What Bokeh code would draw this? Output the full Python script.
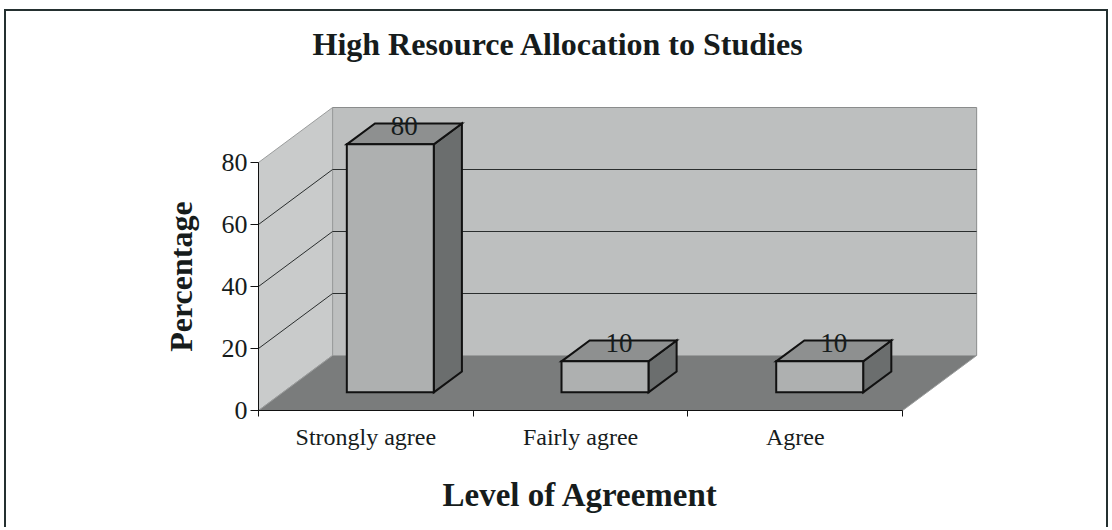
from bokeh.plotting import figure
from bokeh.models import Range1d, FixedTicker, ColumnDataSource
from bokeh.core.properties import value
from bokeh.embed import file_html
from bokeh.resources import INLINE
import math

# ---- data ----
categories = ["Strongly agree", "Fairly agree", "Agree"]
percentages = [80, 10, 10]
value_ticks = [0, 20, 40, 60, 80]
axis_max = 80

title_text = "High Resource Allocation to Studies"
x_title = "Level of Agreement"
y_title = "Percentage"

# ---- 3D styling parameters ----
DX = 0.345   # depth offset in category units
DY = 17.74   # depth offset in value units
F0, F1 = 0.33, 0.71  # bar depth fractions
BW = 0.405   # bar width (category units)
n = len(categories)

FONT = "Liberation Serif"
TXT = "#161c1c"

W, H = 1104, 518
PX_X, PX_Y = 214.7, 3.1      # pixels per category / per percent
ORG_X, ORG_Y = 252, 399      # canvas position of the data origin

p = figure(width=W, height=H,
           x_range=Range1d(-ORG_X / PX_X, (W - ORG_X) / PX_X),
           y_range=Range1d(-(H - ORG_Y) / PX_Y, ORG_Y / PX_Y),
           output_backend="svg", toolbar_location=None,
           min_border=0, min_border_left=0, min_border_right=0,
           min_border_top=0, min_border_bottom=0,
           background_fill_color="white", border_fill_color="white",
           outline_line_color=None)
p.xgrid.visible = False
p.ygrid.visible = False
p.styles = {"margin-left": "4px", "margin-top": "9px",
            "border-top": "2px solid #243030",
            "border-left": "2px solid #243030",
            "border-right": "2px solid #243030"}

# ---- walls & floor ----
p.patch([DX, n + DX, n + DX, DX], [DY, DY, axis_max + DY, axis_max + DY],
        fill_color="#bdbfbf", line_color="#8a8c8c", line_width=1)
p.patch([0, DX, DX, 0], [0, DY, axis_max + DY, axis_max],
        fill_color="#c9cbcb", line_color="#9a9c9c", line_width=1)
p.patch([0, n, n + DX, DX], [0, 0, DY, DY],
        fill_color="#7a7c7c", line_color="#9a9c9c", line_width=1)

# ---- gridlines ----
inner = [t for t in value_ticks if 0 < t < axis_max]
p.multi_line(xs=[[DX, n + DX] for t in inner], ys=[[t + DY, t + DY] for t in inner],
             line_color="#2a2e2e", line_width=1)
p.multi_line(xs=[[0, DX] for t in inner], ys=[[t, t + DY] for t in inner],
             line_color="#2a2e2e", line_width=1)

# ---- bars ----
ddx = (F1 - F0) * DX
ddy = (F1 - F0) * DY
front = dict(xs=[], ys=[])
top = dict(xs=[], ys=[])
side = dict(xs=[], ys=[])
for i, v in enumerate(percentages):
    c = i + 0.5
    x0 = c - BW / 2 + F0 * DX
    x1 = c + BW / 2 + F0 * DX
    yb = F0 * DY
    yt = v + F0 * DY
    front["xs"].append([x0, x1, x1, x0]); front["ys"].append([yb, yb, yt, yt])
    top["xs"].append([x0, x1, x1 + ddx, x0 + ddx]); top["ys"].append([yt, yt, yt + ddy, yt + ddy])
    side["xs"].append([x1, x1 + ddx, x1 + ddx, x1]); side["ys"].append([yb, yb + ddy, yt + ddy, yt])

p.patches("xs", "ys", source=ColumnDataSource(side), fill_color="#6b6e6e",
          line_color="#111111", line_width=2, line_join="miter")
p.patches("xs", "ys", source=ColumnDataSource(top), fill_color="#8e9090",
          line_color="#111111", line_width=2, line_join="miter")
p.patches("xs", "ys", source=ColumnDataSource(front), fill_color="#aeb0b0",
          line_color="#111111", line_width=2, line_join="miter")

# ---- value labels ----
lab_src = ColumnDataSource(dict(
    x=[i + 0.5 + (F0 + F1) / 2 * DX for i in range(n)],
    y=[v + (F0 + F1) / 2 * DY + 2.7 for v in percentages],
    t=[str(v) for v in percentages]))
p.text(x="x", y="y", text="t", source=lab_src, text_align="center",
       text_baseline="middle", text_font=value(FONT), text_font_size="27px",
       text_color=TXT)

# ---- axes (placed at the data origin) ----
ya = p.yaxis[0]
ya.fixed_location = 0
ya.ticker = FixedTicker(ticks=value_ticks)
ya.bounds = (0, axis_max)
ya.major_tick_out = 8
ya.major_tick_in = 0
ya.minor_tick_line_color = None
ya.axis_line_color = "#111111"
ya.major_tick_line_color = "#111111"
ya.major_label_standoff = 3
ya.major_label_text_font = FONT
ya.major_label_text_font_size = "26px"
ya.major_label_text_color = TXT

xa = p.xaxis[0]
xa.fixed_location = 0
xa.ticker = FixedTicker(ticks=[i + 0.5 for i in range(n)], minor_ticks=list(range(n + 1)))
xa.bounds = (0, n)
xa.major_label_overrides = {i + 0.5: cat for i, cat in enumerate(categories)}
xa.major_tick_out = 0
xa.major_tick_in = 0
xa.minor_tick_out = 6
xa.minor_tick_in = 0
xa.minor_tick_line_color = "#111111"
xa.axis_line_color = "#111111"
xa.major_label_standoff = 7
xa.major_label_text_font = FONT
xa.major_label_text_font_size = "24px"
xa.major_label_text_color = TXT

# ---- titles ----
p.text(x=[1.397], y=[118.1], text=[title_text], text_align="center",
       text_baseline="middle", text_font=value(FONT), text_font_size="32px",
       text_font_style="bold", text_color=TXT)
p.text(x=[1.5], y=[-27.1], text=[x_title], text_align="center",
       text_baseline="middle", text_font=value(FONT), text_font_size="33px",
       text_font_style="bold", text_color=TXT)
p.text(x=[-0.361], y=[43.2], text=[y_title], text_align="center",
       text_baseline="middle", angle=math.pi / 2, text_font=value(FONT),
       text_font_size="32px", text_font_style="bold", text_color=TXT)

open("out.html", "w").write(file_html(p, INLINE))
